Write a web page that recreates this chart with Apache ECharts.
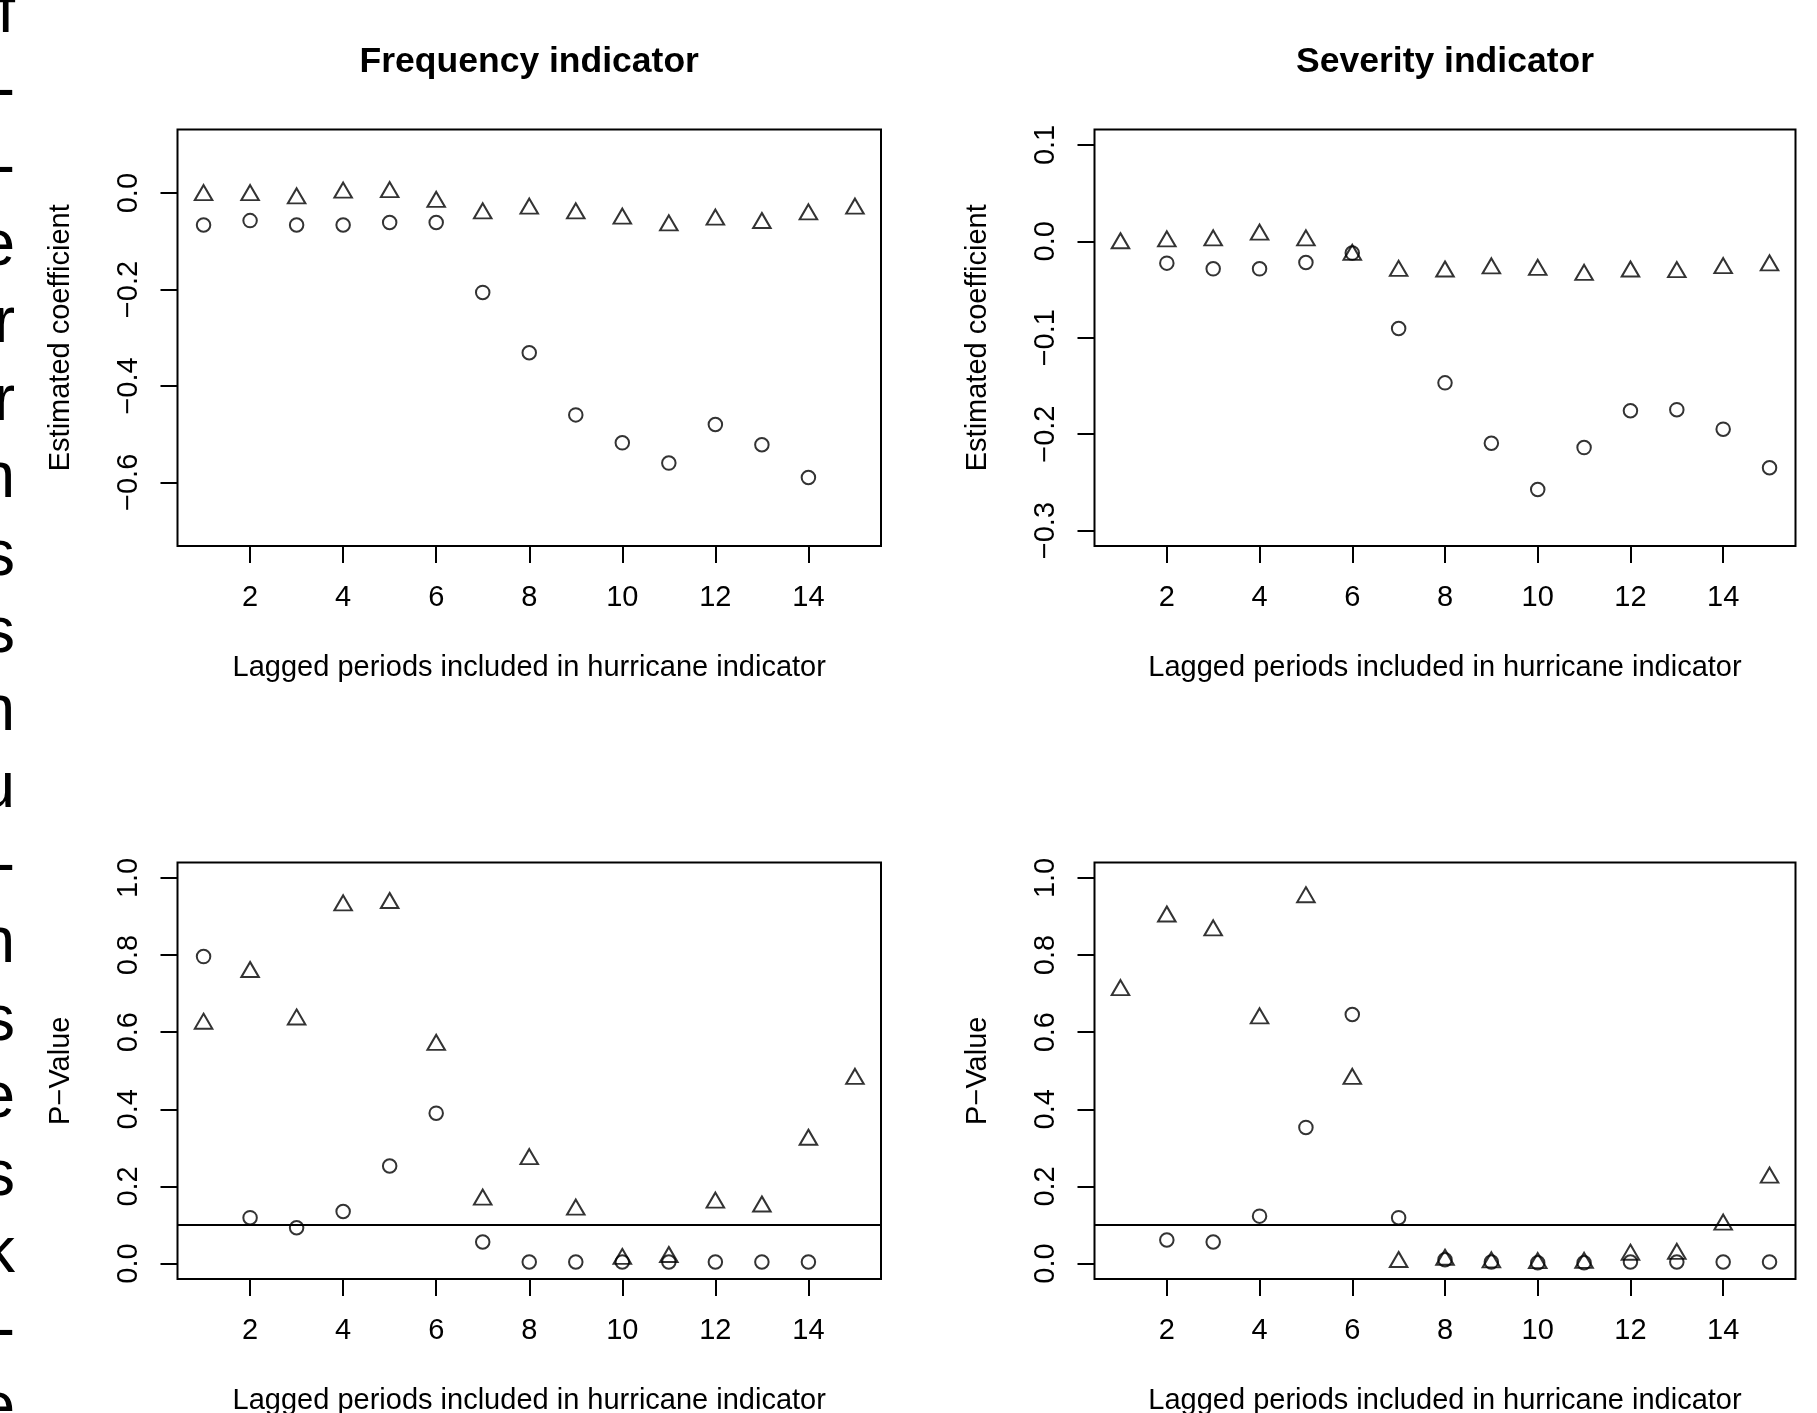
<!DOCTYPE html>
<html><head><meta charset="utf-8">
<script src="https://cdn.jsdelivr.net/npm/echarts@6/dist/echarts.min.js"></script>
<style>html,body{margin:0;padding:0;background:#fff}#c{width:1817px;height:1413px}</style>
</head><body><div id="c"></div>
<script>
// ---------- data ----------
const lagsFreqCircle = [1,2,3,4,5,6,7,8,9,10,11,12,13,14];
const lagsSevCircle  = [2,3,4,5,6,7,8,9,10,11,12,13,14,15];
const lagsTriangle   = [1,2,3,4,5,6,7,8,9,10,11,12,13,14,15];

const freqCoefCircle = [-0.066,-0.057,-0.066,-0.066,-0.061,-0.061,-0.206,-0.331,-0.460,-0.518,-0.560,-0.480,-0.522,-0.590];
const freqCoefTri    = [-0.004,-0.004,-0.011,0.001,0.002,-0.018,-0.042,-0.032,-0.042,-0.053,-0.067,-0.055,-0.062,-0.044,-0.032];
const sevCoefCircle  = [-0.0226,-0.0285,-0.0285,-0.0219,-0.0122,-0.0904,-0.1468,-0.2094,-0.2574,-0.2139,-0.1757,-0.1746,-0.1948,-0.2348];
const sevCoefTri     = [-0.002,0.000,0.001,0.007,0.001,-0.014,-0.0306,-0.0313,-0.028,-0.0296,-0.0348,-0.0313,-0.032,-0.0278,-0.025];

const freqPCircle = [0.796,0.119,0.093,0.135,0.253,0.390,0.056,0.004,0.004,0.004,0.004,0.004,0.004,0.004];
const freqPTri    = [0.622,0.756,0.633,0.929,0.935,0.567,0.166,0.271,0.140,0.012,0.017,0.158,0.148,0.321,0.479];
const sevPCircle  = [0.061,0.056,0.123,0.353,0.646,0.119,0.010,0.004,0.002,0.002,0.004,0.004,0.004,0.004];
const sevPTri     = [0.709,0.900,0.864,0.636,0.950,0.479,0.004,0.010,0.003,0.001,0.002,0.023,0.025,0.101,0.223];

const pThreshold = 0.1;

const xTicks        = [2,4,6,8,10,12,14];
const yTicksFreqCoef = [-0.6,-0.4,-0.2,0.0];
const yTicksSevCoef  = [-0.3,-0.2,-0.1,0.0,0.1];
const yTicksP        = [0.0,0.2,0.4,0.6,0.8,1.0];

const panelTitles = ['Frequency indicator','Severity indicator'];
const xTitle = 'Lagged periods included in hurricane indicator';
const yTitleCoef = 'Estimated coefficient';
const yTitleP = 'P\u2212Value';

// cut-off text from the neighbouring page column
const marginChars = ['f','-','-','e','r','r','n','s','s','n','u','-','n','s','e','s','k','-','e'];

// ---------- styling / layout ----------
const FONT = '"Liberation Sans", Arial, sans-serif';
const BLACK = '#000';
const grids = [
  {left:177.5, top:129.5, width:703.5, height:416.5},
  {left:1094.5, top:129.5, width:701, height:416.5},
  {left:177.5, top:862.5, width:703.5, height:416.5},
  {left:1094.5, top:862.5, width:701, height:416.5}
];
const yRanges = [
  {min:-0.732, max:0.132, ticks:yTicksFreqCoef, name:yTitleCoef},
  {min:-0.316, max:0.116, ticks:yTicksSevCoef, name:yTitleCoef},
  {min:-0.04, max:1.04, ticks:yTicksP, name:yTitleP},
  {min:-0.04, max:1.04, ticks:yTicksP, name:yTitleP}
];
const fmt = v => (v < -1e-9 ? '\u2212' : '') + Math.abs(v).toFixed(1);

const xAxes = grids.map((g,i) => ({
  type:'value', gridIndex:i, position:'bottom', min:0.44, max:15.56,
  axisLine:{show:false, onZero:false},
  splitLine:{show:false},
  axisTick:{show:true, inside:false, length:17, customValues:xTicks, lineStyle:{color:BLACK, width:2}},
  axisLabel:{show:true, margin:37, customValues:xTicks, color:BLACK, fontSize:29, fontFamily:FONT, formatter:v=>String(v)},
  name:xTitle, nameLocation:'middle', nameGap:107,
  nameTextStyle:{color:BLACK, fontSize:29, fontFamily:FONT}
}));
const yAxes = grids.map((g,i) => ({
  type:'value', gridIndex:i, position:'left', min:yRanges[i].min, max:yRanges[i].max,
  axisLine:{show:false, onZero:false},
  splitLine:{show:false},
  axisTick:{show:true, inside:false, length:17, customValues:yRanges[i].ticks, lineStyle:{color:BLACK, width:2}},
  axisLabel:{show:true, rotate:90, margin:34, customValues:yRanges[i].ticks, color:BLACK, fontSize:29, fontFamily:FONT, formatter:fmt},
  name:yRanges[i].name, nameLocation:'middle', nameGap:102, nameRotate:90,
  nameTextStyle:{color:BLACK, fontSize:29, fontFamily:FONT}
}));

const circleStyle = {color:'rgba(0,0,0,0)', borderColor:BLACK, borderWidth:2};
const triStyle = {color:'rgba(0,0,0,0)', borderColor:BLACK, borderWidth:2};
const pair = (xs, ys) => xs.map((x,k) => [x, ys[k]]);
function circles(i, xs, ys){
  return {type:'scatter', xAxisIndex:i, yAxisIndex:i, symbol:'circle', symbolSize:13.5,
    itemStyle:circleStyle, data:pair(xs,ys), silent:true};
}
function triangles(i, xs, ys, withLine){
  const s = {type:'scatter', xAxisIndex:i, yAxisIndex:i, symbol:'triangle', symbolSize:[17.5,15],
    symbolOffset:[0,-2.5], itemStyle:triStyle, data:pair(xs,ys), silent:true};
  if (withLine) {
    s.markLine = {silent:true, symbol:['none','none'], label:{show:false},
      lineStyle:{color:BLACK, width:2, type:'solid'}, emphasis:{disabled:true},
      data:[{yAxis:pThreshold}]};
  }
  return s;
}

const graphics = [];
panelTitles.forEach((t,k) => {
  const g = grids[k];
  graphics.push({type:'text', x:g.left + g.width/2, y:62, silent:true,
    style:{text:t, fill:BLACK, font:'bold 35.5px ' + FONT, align:'center', verticalAlign:'middle'}});
});
marginChars.forEach((ch,k) => {
  graphics.push({type:'text', x:15, y:14.5 + k*77.5, silent:true,
    style:{text:ch, fill:BLACK, font:'64px ' + FONT, align:'right', verticalAlign:'middle'}});
});

const option = {
  animation:false,
  backgroundColor:'#fff',
  grid: grids.map(g => Object.assign({show:true, borderColor:BLACK, borderWidth:2, backgroundColor:'rgba(0,0,0,0)', containLabel:false, outerBoundsMode:'none'}, g)),
  xAxis:xAxes,
  yAxis:yAxes,
  series:[
    circles(0, lagsFreqCircle, freqCoefCircle),
    triangles(0, lagsTriangle, freqCoefTri, false),
    circles(1, lagsSevCircle, sevCoefCircle),
    triangles(1, lagsTriangle, sevCoefTri, false),
    circles(2, lagsFreqCircle, freqPCircle),
    triangles(2, lagsTriangle, freqPTri, true),
    circles(3, lagsSevCircle, sevPCircle),
    triangles(3, lagsTriangle, sevPTri, true)
  ],
  graphic:graphics
};
const chart = echarts.init(document.getElementById('c'), null, {renderer:'canvas'});
chart.setOption(option);
</script>
</body></html>
